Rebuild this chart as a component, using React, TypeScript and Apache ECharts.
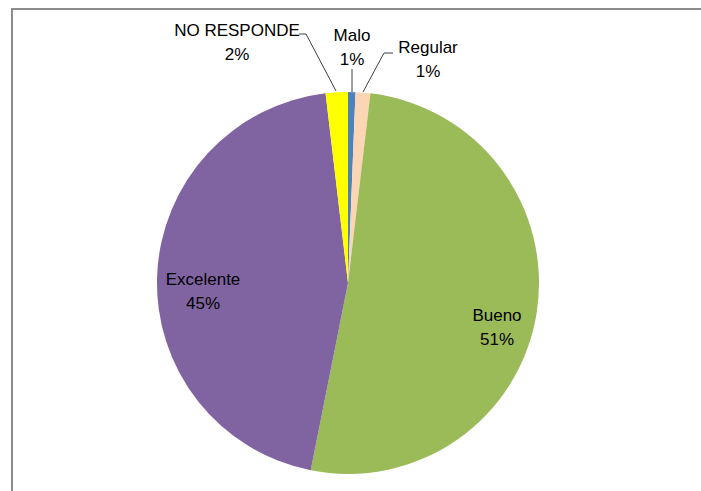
import React, { useEffect, useRef } from "react";
import * as echarts from "echarts";

const categories = ["Malo", "Regular", "Bueno", "Excelente", "NO RESPONDE"];
const counts = [1, 2, 82, 72, 3];
const colors = ["#4F81BD", "#FCD5B5", "#9BBB59", "#8064A2", "#FFFF00"];

// label anchor positions (pixel layout, not data)
const labelPos: Record<string, { x: number; y: number; line?: number[][] }> = {
  Malo: { x: 352, y: 47, line: [[352, 69], [352, 92]] },
  Regular: { x: 428, y: 59, line: [[393, 53], [384, 53], [363, 92]] },
  Bueno: { x: 497, y: 327 },
  Excelente: { x: 203, y: 291 },
  "NO RESPONDE": { x: 237, y: 42, line: [[299, 34], [306, 34], [336, 91]] },
};

export default function App() {
  const ref = useRef<HTMLDivElement>(null);
  useEffect(() => {
    if (!ref.current) return;
    const chart = echarts.init(ref.current, undefined, { renderer: "svg" });
    const inside = new Set(["Bueno", "Excelente"]);
    chart.setOption({
      animation: false,
      backgroundColor: "#ffffff",
      graphic: [
        {
          type: "rect",
          shape: { x: 12, y: 9, width: 760, height: 560 },
          style: { fill: "none", stroke: "#8c8c8c", lineWidth: 2 },
          silent: true,
        },
      ],
      series: [
        {
          type: "pie",
          center: [348, 283],
          radius: 191,
          startAngle: 90,
          clockwise: true,
          percentPrecision: 0,
          avoidLabelOverlap: false,
          itemStyle: { borderWidth: 0 },
          label: {
            formatter: "{b}\n{d}%",
            fontFamily: "Liberation Sans",
            fontSize: 17,
            lineHeight: 24,
            color: "#000000",
            align: "center",
          },
          labelLine: {
            show: true,
            lineStyle: { color: "#404040", width: 1 },
          },
          labelLayout: (params: any) => {
            const name = categories[params.dataIndex];
            const p = labelPos[name];
            const res: any = { x: p.x, y: p.y, align: "center", verticalAlign: "middle" };
            if (p.line) res.labelLinePoints = p.line;
            return res;
          },
          data: categories.map((c, i) => ({
            name: c,
            value: counts[i],
            itemStyle: { color: colors[i] },
            label: { position: inside.has(c) ? "inside" : "outside" },
            labelLine: { show: !inside.has(c) },
          })),
        },
      ],
    });
    return () => chart.dispose();
  }, []);
  return (
    <div
      ref={ref}
      style={{ position: "fixed", left: 0, top: 0, width: 701, height: 491 }}
    />
  );
}
